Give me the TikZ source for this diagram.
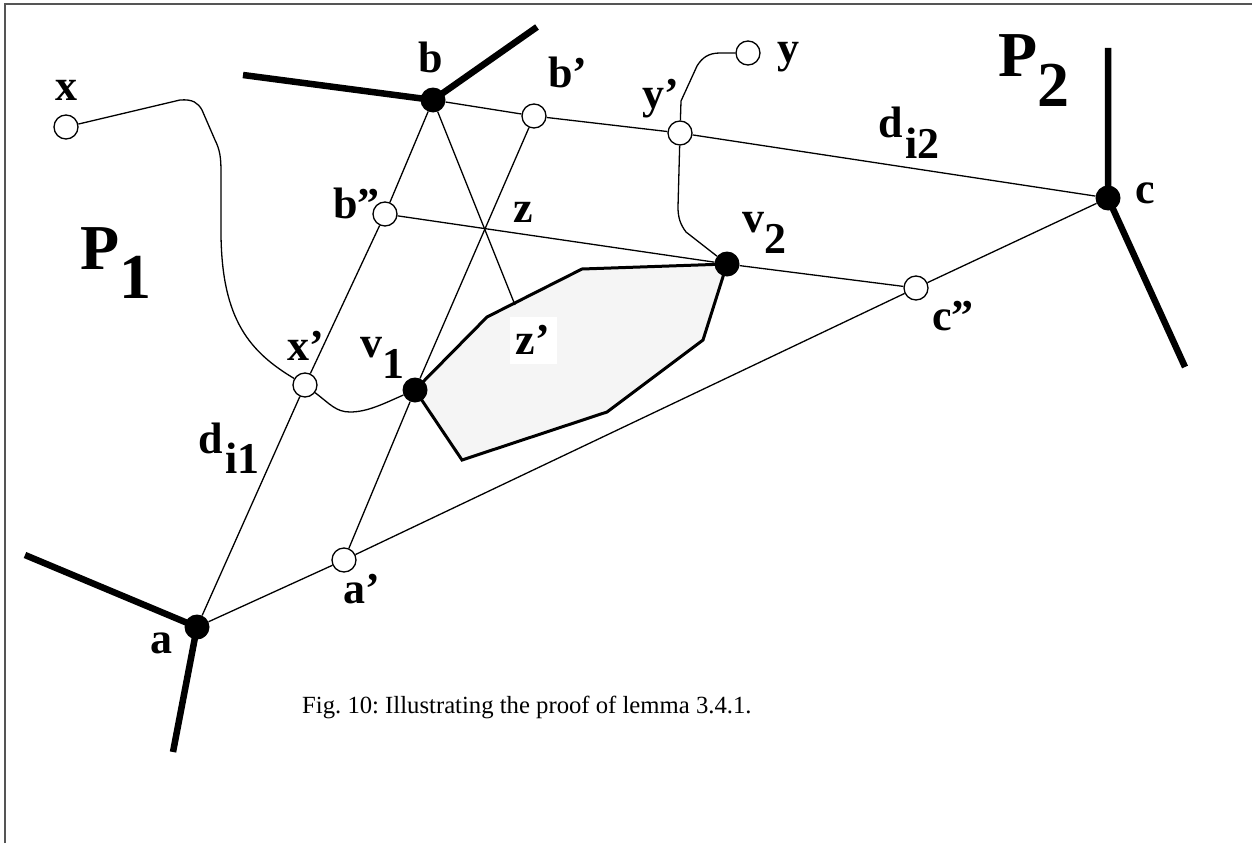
\documentclass[tikz,border=0pt]{standalone}
\usepackage{fontspec}
\setmainfont{Liberation Serif}
\usepackage{tikz}
\usetikzlibrary{
  backgrounds,
}
\definecolor{frameGray}{HTML}{555555}
\definecolor{regionFill}{HTML}{F5F5F5}

\begin{document}
\begin{tikzpicture}[x=1pt,y=-1pt,
  vertex/.style={circle,fill=black,inner sep=0pt,minimum size=25pt},
  hole/.style={circle,draw=black,fill=white,line width=1.3pt,
               inner sep=0pt,minimum size=24pt},
  thinedge/.style={line width=1.3pt},
  heavyedge/.style={line width=6.5pt},
  lbl/.style={anchor=base west,inner sep=0pt,
              font=\fontsize{44}{44}\selectfont\bfseries},
  biglbl/.style={anchor=base west,inner sep=0pt,
                 font=\fontsize{64}{64}\selectfont\bfseries}]

\useasboundingbox (0,0) rectangle (1252,843);

% cut frame, top and left only
\draw[draw=frameGray, line width=2pt] (5,843) -- (5,4.5) -- (1252,4.5);

% corner points
\node[vertex] (a)  at (197,627) {};
\node[vertex] (b)  at (433,100) {};
\node[vertex] (c)  at (1108,198) {};
\node[vertex] (v1) at (415,390) {};
\node[vertex] (v2) at (727,264) {};

% auxiliary points
\node[hole] (x)   at (66,127) {};
\node[hole] (xp)  at (305,385) {};
\node[hole] (y)   at (748,53) {};
\node[hole] (yp)  at (680,133) {};
\node[hole] (bp)  at (534,116) {};
\node[hole] (bpp) at (385,214) {};
\node[hole] (cpp) at (916,288) {};
\node[hole] (ap)  at (344,560) {};

\coordinate (zp) at (515,305);
\coordinate (aL) at (25,555);
\coordinate (aD) at (173,752);
\coordinate (bL) at (243,75);
\coordinate (bR) at (537,27);
\coordinate (cU) at (1108,48);
\coordinate (cD) at (1185,367);

% the region between v1 and v2
\begin{scope}[on background layer]
  \draw[fill=regionFill, line width=3pt]
    (v1.center) -- (487,317) -- (582,269) -- (v2.center)
    -- (703,340) -- (607,412) -- (462,460) -- cycle;
\end{scope}

% heavy boundary edges
\draw[heavyedge] (aL) -- (a.center) -- (aD);
\draw[heavyedge] (bL) -- (b.center) -- (bR);
\draw[heavyedge] (cU) -- (c.center) -- (cD);

% thin lines
\draw[thinedge] (a) -- (xp) -- (bpp) -- (b);
\draw[thinedge] (b) -- (bp) -- (yp) -- (c);
\draw[thinedge] (a) -- (ap) -- (cpp) -- (c);
\draw[thinedge] (bpp) -- (v2) -- (cpp);
\draw[thinedge] (ap) -- (v1) -- (bp);
\draw[thinedge] (b) -- (zp);

% paths from x and y
\draw[thinedge] (x) -- (180,100) .. controls (193,99) and (198,103) .. (202,110)
  -- (215,140) .. controls (220,150) and (221,158) .. (221,172)
  -- (221,235) .. controls (222,320) and (250,352) .. (xp);
\draw[thinedge] (xp) .. controls (330,404) and (336,412) .. (350,412)
  .. controls (368,412) and (385,403) .. (v1);
\draw[thinedge] (y) -- (720,53) .. controls (708,53) and (702,58) .. (697,66)
  -- (681,101) -- (yp);
\draw[thinedge] (yp) -- (678,207) .. controls (678,217) and (680,224) .. (686,232)
  -- (v2);

% labels
\node[lbl] (lx)   at (55,100)  {x};
\node[lbl] (lb)   at (418,72)  {b};
\node[lbl] (lbp)  at (548,88)  {b'};
\node[lbl] (ly)   at (777,63)  {y};
\node[lbl] (lyp)  at (642,108) {y'};
\node[lbl] (lv2)  at (742,232) {v\raisebox{-21pt}{2}};
\node[lbl] (ldi2) at (878,137) {d\kern3pt\raisebox{-21pt}{i2}};
\node[lbl] (lc)   at (1135,203) {c};
\node[lbl] (lcpp) at (932,330) {c''};
\node[lbl] (lbpp) at (333,218) {b''};
\node[lbl] (lz)   at (513,222) {z};
\node[lbl] (lxp)  at (287,360) {x'};
\node[lbl] (lv1)  at (360,357) {v\raisebox{-21pt}{1}};
\node[lbl] (ldi1) at (198,453) {d\kern3pt\raisebox{-20pt}{i1}};
\node[lbl] (lap)  at (343,603) {a'};
\node[lbl] (la)   at (150,653) {a};
\node[lbl, anchor=center, fill=white, minimum width=47pt, minimum height=47pt]
  (lzp) at (533,340) {z'};

\node[biglbl] (lP1) at (80,269) {P\raisebox{-29pt}{1}};
\node[biglbl] (lP2) at (998,77) {P\raisebox{-30pt}{2}};

% caption
\node[anchor=base west, inner sep=0pt, font=\fontsize{24.7}{24.7}\selectfont\frenchspacing]
  (caption) at (302,713) {Fig. 10: Illustrating the proof of lemma 3.4.1.};

\end{tikzpicture}
\end{document}
